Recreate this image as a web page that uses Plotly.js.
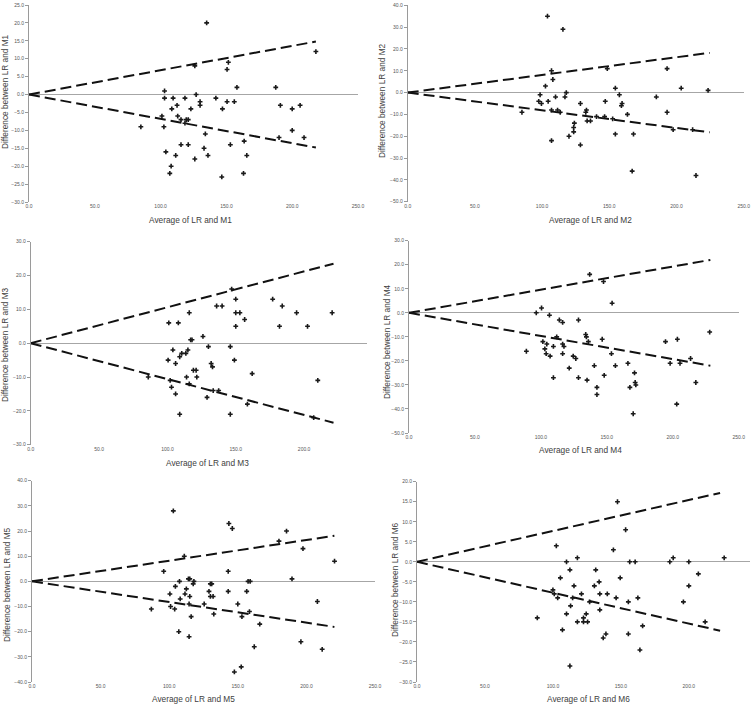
<!DOCTYPE html>
<html>
<head>
<meta charset="utf-8">
<script src="https://cdn.plot.ly/plotly-3.0.1.min.js"></script>
<style>html,body{margin:0;padding:0;background:#fff;}#chart{width:754px;height:706px;}</style>
</head>
<body>
<div id="chart"></div>
<script>
// ---- Data ----
const avgM1 = [135,126,150.5,151.5,218,103,103,158,187.5,127,109.5,118.5,142,130,150.5,156,112.5,130,191,206,108.5,123,147,200,101,113,115.5,119.5,121,118.5,85,102.5,200,134,190,209,115.5,121,153,163.5,133,104,111.5,136,165.5,126,108,107,163,146.5];
const diffM1 = [20,8,7,9,12,1,-1,2,2,0,-1,-1,-1,-2,-2,-2,-3,-3,-3,-3,-4,-4,-4,-4,-6,-6,-7,-7,-7,-8,-9,-9,-10,-11,-12,-12,-14,-14,-14,-13,-15,-16,-17,-17,-17,-18,-20,-22,-22,-23];

const avgM2 = [104,115.5,107,108,102.5,148.5,193,154.5,203.5,223.5,118,117,98.5,110,157.5,185,97.5,104.5,99.5,128.5,147,159.5,159,107,111.5,133,132.5,113.5,85,193,163.5,140.5,146.5,152.5,133.5,136,124,123.5,123.5,120,154.5,168,197.5,212,107,128.5,167,214.5];
const diffM2 = [35,29,10,6,3,11,11,2,2,1,0,-2,-1,-2,-1,-2,-4,-4,-5,-5,-4,-5,-6,-8,-8,-8,-9,-9,-9,-9,-10,-11,-11,-12,-13,-13,-14,-16,-18,-20,-19,-19,-17,-17,-22,-24,-36,-38];

const avgM3 = [147,177,150,184,136,140,116,150,153,194.5,220.5,156.5,101,108,150,182,202.5,126,117,118,130,146,104,115,110.5,113.5,109,100.5,149,106,132,133,119,121,114,121.5,86,162,102,210,116,103,133.5,137.5,106,129,158.5,109,146,207];
const diffM3 = [16,13,13,11,11,11,9,9,9,9,9,7,6,6,5,5,5,2,1,1,-1,-1,-2,-2,-3,-3,-4,-5,-5,-6,-6,-7,-8,-8,-10,-10,-10,-9,-11,-11,-12,-13,-14,-14,-15,-16,-18,-21,-21,-22];

const avgM4 = [137,147.5,154,100.5,96.5,106.5,114,128.5,116.5,228,134,134.5,112,101.5,136,146.5,194.5,203.5,104.5,116.5,103,109.5,117.5,89,104,116.5,153.5,107,124.5,126.5,213.5,198,205.5,166,140.5,156.5,121.5,171,148,109.5,128.5,135,171.5,172,217.5,142.5,167.5,142.5,203,170];
const diffM4 = [16,13,4,2,0,-1,-3,-3,-4,-8,-9,-10,-10,-12,-12,-11,-12,-11,-13,-13,-15,-14,-14,-16,-17,-17,-17,-18,-18,-19,-19,-21,-21,-21,-22,-22,-23,-25,-26,-27,-27,-28,-29,-30,-29,-31,-31,-34,-38,-42];

const avgM5 = [103,143.5,146,185.5,180,197.5,111,220.5,96,143,189.5,114,115,118,107.5,157.5,159,117.5,130,131,104.5,112.5,129,143,156.5,100.5,111.5,115,130,132,108,208,114.5,125.5,150,101,104,87,158.5,132.5,116,153,166,107,114.5,196,162,211.5,152.5,147.5];
const diffM5 = [28,23,21,20,16,13,10,8,4,4,1,1,1,0,0,0,0,-1,-1,-1,-2,-3,-4,-4,-4,-5,-5,-6,-6,-6,-7,-8,-9,-9,-9,-10,-11,-11,-12,-13,-14,-14,-17,-20,-22,-24,-26,-27,-34,-36];

const avgM6 = [147.5,153.5,102.5,144.5,118,188.5,226,110,156.5,160.5,186,200,112.5,131.5,207,105.5,149.5,134,115.5,130.5,200,100,101,121,134.5,140,103.5,114.5,146.5,162.5,127,155.5,196,113,134.5,110,124.5,88.5,122.5,118,122.5,125.5,212,166,107,139,155.5,137,164,112.5];
const diffM6 = [15,8,4,3,1,1,1,0,0,0,0,0,-2,-2,-3,-4,-4,-5,-6,-6,-6,-7,-8,-8,-8,-8,-9,-9,-9,-9,-10,-10,-10,-11,-12,-13,-13,-14,-14,-15,-15,-15,-15,-16,-17,-18,-18,-19,-22,-26];

// limit lines (through origin): end average and +/- difference
const limitEndX = [218, 224.7, 221.5, 228.5, 220.4, 223];
const limitEndY = [14.8, 18.2, 23.5, 22, 18.1, 17.2];

const methodNames = ['M1','M2','M3','M4','M5','M6'];
const yRanges = [[-30,25],[-50,40],[-30,30],[-50,30],[-40,40],[-30,20]];
const yDtick = [5,10,10,10,10,5];
const xMax = [250,250,246,250,250,245];
const xTickVals = [0,50,100,150,200,250];

// ---- Layout geometry (pixels in the 754x706 picture) ----
const W = 754, H = 706;
const panels = [
  {x0:29,   x1:358,   yTop:5,     yBot:202},
  {x0:407.7,x1:743.7, yTop:5.3,   yBot:201.7},
  {x0:30.7, x1:367,   yTop:241.7, yBot:444.7},
  {x0:409,  x1:738.7, yTop:240.7, yBot:433},
  {x0:32,   x1:375,   yTop:480.7, yBot:682},
  {x0:417,  x1:750,   yTop:481.7, yBot:682}
];
const xTitlePos = [[190,220],[590,220],[207,463],[580,450],[193,699],[588,699]];
const yTitlePos = [[5,92],[382,100],[5,345],[387,342],[7,585],[395,580]];

const avgs = [avgM1,avgM2,avgM3,avgM4,avgM5,avgM6];
const diffs = [diffM1,diffM2,diffM3,diffM4,diffM5,diffM6];

const traces = [];
const layout = {
  width: W, height: H,
  margin: {l:0, r:0, t:0, b:0},
  paper_bgcolor: '#ffffff', plot_bgcolor: 'rgba(0,0,0,0)',
  showlegend: false,
  font: {family: 'Liberation Sans, Arial, sans-serif', color: '#404040'},
  annotations: []
};

const tickFont = {family: 'Liberation Sans, sans-serif', size: 5, color: '#555555'};
const titleFont = {family: 'Liberation Sans, sans-serif', size: 8.3, color: '#404040'};

for (let i = 0; i < 6; i++) {
  const p = panels[i];
  const n = i + 1;
  const xa = n === 1 ? 'x' : 'x' + n;
  const ya = n === 1 ? 'y' : 'y' + n;
  const xk = n === 1 ? 'xaxis' : 'xaxis' + n;
  const yk = n === 1 ? 'yaxis' : 'yaxis' + n;
  const xDom = [p.x0 / W, p.x1 / W];
  const yDom = [1 - p.yBot / H, 1 - p.yTop / H];
  const yr = yRanges[i];
  const yTicks = [];
  for (let v = yr[0]; v <= yr[1] + 1e-9; v += yDtick[i]) yTicks.push(v);

  layout[xk] = {
    domain: xDom, range: [0, xMax[i]], anchor: ya,
    tickvals: xTickVals, tickformat: '.1f',
    showgrid: false, zeroline: false, showline: false,
    ticks: '', ticklen: 0, tickfont: tickFont, fixedrange: true
  };
  layout[yk] = {
    domain: yDom, range: yr, anchor: xa,
    tickvals: yTicks, tickformat: '.1f',
    showgrid: false, zeroline: true, zerolinecolor: '#a6a6a6', zerolinewidth: 1,
    showline: true, linecolor: '#9a9a9a', linewidth: 1,
    ticks: 'outside', ticklen: 3, tickcolor: '#9a9a9a', tickwidth: 1,
    tickfont: tickFont, fixedrange: true
  };
  // overlay axis providing tick marks on the zero line
  const zk = 'xaxis' + (n + 6);
  const zeroPos = yDom[0] + (0 - yr[0]) / (yr[1] - yr[0]) * (yDom[1] - yDom[0]);
  layout[zk] = {
    domain: xDom, range: [0, xMax[i]], overlaying: xa, anchor: 'free', position: zeroPos,
    tickvals: xTickVals, showticklabels: false, showgrid: false, zeroline: false, showline: false,
    ticks: 'inside', ticklen: 3, tickcolor: '#a6a6a6', tickwidth: 1, fixedrange: true
  };

  traces.push({
    type: 'scatter', mode: 'markers', x: avgs[i], y: diffs[i], xaxis: xa, yaxis: ya,
    marker: {symbol: 'cross', size: 4, color: '#1a1a1a'}, hoverinfo: 'skip'
  });
  traces.push({
    type: 'scatter', mode: 'lines', x: [0, limitEndX[i]], y: [0, limitEndY[i]], xaxis: xa, yaxis: ya,
    line: {color: '#111111', width: 2, dash: '11px,5px'}, hoverinfo: 'skip'
  });
  traces.push({
    type: 'scatter', mode: 'lines', x: [0, limitEndX[i]], y: [0, -limitEndY[i]], xaxis: xa, yaxis: ya,
    line: {color: '#111111', width: 2, dash: '11px,5px'}, hoverinfo: 'skip'
  });

  layout.annotations.push({
    text: 'Average of LR and ' + methodNames[i], xref: 'paper', yref: 'paper',
    x: xTitlePos[i][0] / W, y: 1 - xTitlePos[i][1] / H, xanchor: 'center', yanchor: 'middle',
    showarrow: false, font: titleFont
  });
  layout.annotations.push({
    text: 'Difference between LR and ' + methodNames[i], xref: 'paper', yref: 'paper',
    x: yTitlePos[i][0] / W, y: 1 - yTitlePos[i][1] / H, xanchor: 'center', yanchor: 'middle',
    textangle: -90, showarrow: false, font: titleFont
  });
}

Plotly.newPlot('chart', traces, layout, {staticPlot: true, displayModeBar: false});
</script>
</body>
</html>
